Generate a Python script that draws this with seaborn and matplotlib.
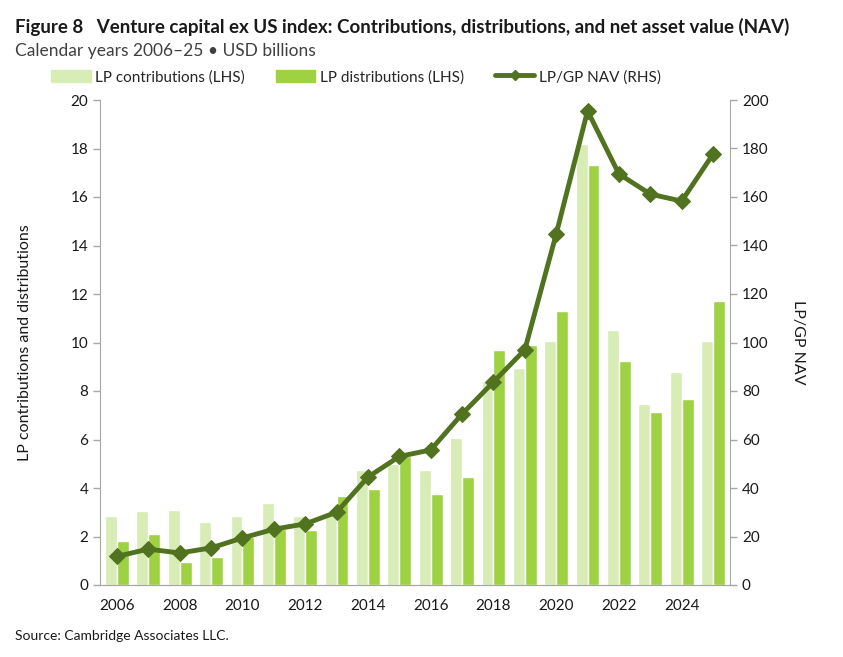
import numpy as np
import pandas as pd
import seaborn as sns
import matplotlib.pyplot as plt
from matplotlib.patches import Patch
from matplotlib.lines import Line2D

years = list(range(2006, 2026))
contributions = [2.85, 3.05, 3.1, 2.6, 2.85, 3.38, 2.85, 3.0, 4.75, 5.0,
                 4.75, 6.05, 8.4, 8.95, 10.05, 18.2, 10.5, 7.45, 8.8, 10.05]
distributions = [1.8, 2.1, 0.95, 1.15, 2.0, 2.3, 2.25, 3.65, 3.95, 5.3,
                 3.75, 4.45, 9.7, 9.9, 11.3, 17.3, 9.25, 7.13, 7.67, 11.7]
nav = [11.8, 14.8, 13.2, 15.3, 19.4, 23.0, 25.2, 30.0, 44.5, 53.0,
       55.7, 70.5, 83.7, 97.0, 144.7, 195.5, 169.5, 161.2, 158.3, 177.7]

light = '#d7edb5'
mid = '#9fd243'
dark = '#51731f'
grey = '#a6a6a6'
txt = '#1a1a1a'

sns.set_style('white')
plt.rcParams['font.family'] = ['Lato', 'DejaVu Sans']

df = pd.DataFrame({
    'year': [str(y) for y in years] * 2,
    'value': contributions + distributions,
    'series': ['LP contributions (LHS)'] * len(years) + ['LP distributions (LHS)'] * len(years),
})

fig = plt.figure(figsize=(8.43, 6.57), dpi=100)
ax = fig.add_axes([100 / 843, 1 - 585 / 657, 630 / 843, 485 / 657])

sns.barplot(data=df, x='year', y='value', hue='series',
            palette=[light, mid], width=0.76, ax=ax, legend=False,
            saturation=1)
ax.set_xlim(-0.54, len(years) - 0.46)
ax.set_ylim(0, 20)
ax.set_yticks(range(0, 21, 2))
ax.set_xticks(range(0, len(years), 2))
ax.set_xticklabels([str(y) for y in years[::2]])
ax.set_xlabel('')
ax.set_ylabel('LP contributions and distributions', fontsize=11.5, color=txt, labelpad=28)

ax2 = ax.twinx()
sns.lineplot(x=np.arange(len(years)), y=nav, ax=ax2, color=dark, lw=3.5,
             marker='D', markersize=8, markeredgecolor=dark)
ax2.set_ylim(0, 200)
ax2.set_yticks(range(0, 201, 20))
ax2.set_ylabel('LP/GP NAV', fontsize=11.5, color=txt, rotation=-90, labelpad=26)

for a in (ax, ax2):
    for s in a.spines.values():
        s.set_color(grey)
    a.spines['top'].set_visible(False)
    a.tick_params(axis='y', colors=grey, labelcolor=txt, labelsize=11,
                  length=5, width=1, direction='out')
    a.tick_params(axis='x', length=0, labelsize=11, labelcolor=txt, pad=10)
ax.spines['right'].set_visible(False)
ax2.spines['left'].set_visible(False)

fig.text(15 / 843, 1 - 27 / 657, 'Figure 8   Venture capital ex US index: Contributions, distributions, and net asset value (NAV)',
         fontsize=13.5, fontweight='bold', color=txt, va='center')
fig.text(15 / 843, 1 - 51 / 657, 'Calendar years 2006–25 • USD billions',
         fontsize=12.5, color='#404040', va='center')
fig.text(15 / 843, 1 - 636 / 657, 'Source: Cambridge Associates LLC.',
         fontsize=10, color=txt, va='center')

handles = [Patch(color=light), Patch(color=mid),
           Line2D([], [], color=dark, lw=3.5, marker='D', markersize=5)]
labels = ['LP contributions (LHS)', 'LP distributions (LHS)', 'LP/GP NAV (RHS)']
fig.legend(handles, labels, loc='center left', bbox_to_anchor=(45 / 843, 1 - 77 / 657),
           ncol=3, frameon=False, fontsize=11, handlelength=2.6, handleheight=0.9,
           columnspacing=2.0, handletextpad=0.3, borderaxespad=0)

fig.savefig('out.png', dpi=100)
